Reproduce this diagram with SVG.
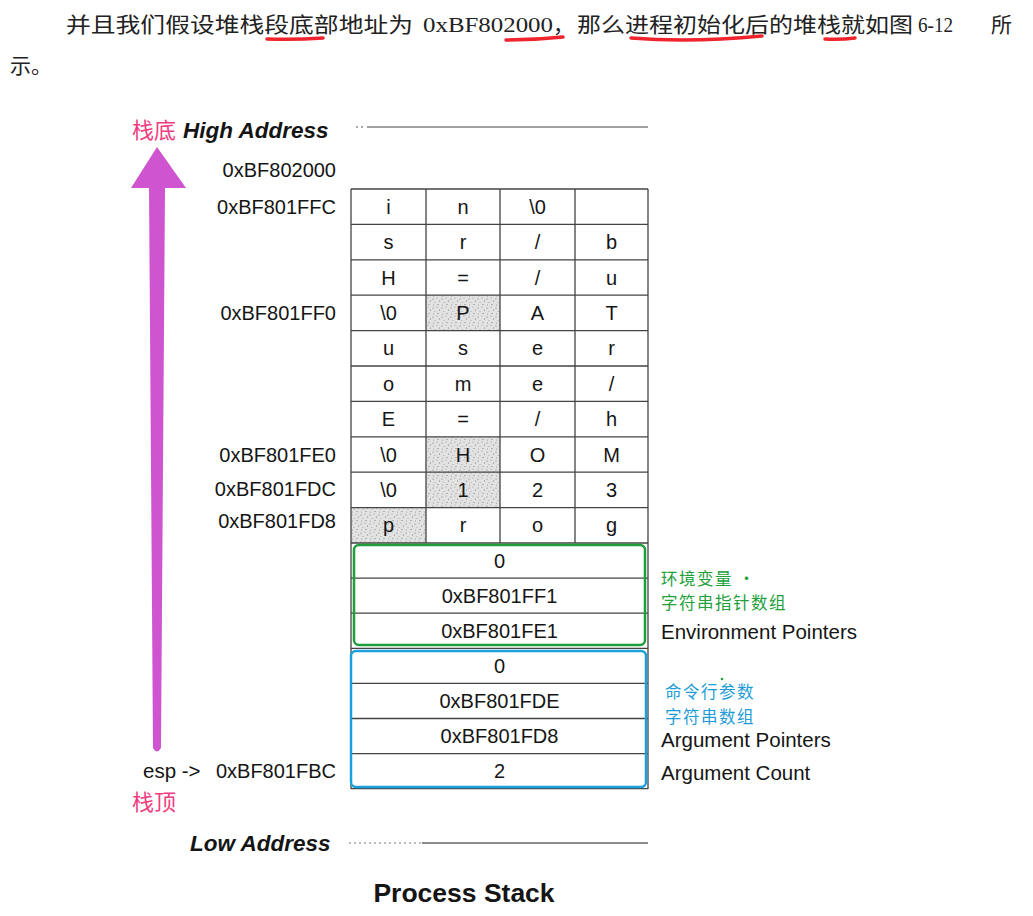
<svg xmlns="http://www.w3.org/2000/svg" width="1033" height="916" viewBox="0 0 1033 916">
<style>
.cn{font-family:"Liberation Serif","Noto Sans CJK SC",serif;font-size:21px;fill:#222}
.t{font-family:"Liberation Sans",Arial,sans-serif;font-size:20.5px;fill:#151515}
.c{font-family:"Liberation Sans",Arial,sans-serif;font-size:20px;fill:#151515;text-anchor:middle}
.a{font-family:"Liberation Sans",Arial,sans-serif;font-size:20px;fill:#151515;text-anchor:end}
.h{font-family:"Liberation Sans",Arial,sans-serif;font-size:22.5px;font-weight:bold;font-style:italic;fill:#151515}
.pk{font-family:"Noto Sans CJK SC",sans-serif;font-size:22px;fill:#f03c82}
.gl{font-family:"Noto Sans CJK SC",sans-serif;font-size:16.5px;letter-spacing:1.5px;fill:#22a03a}
.bl{font-family:"Noto Sans CJK SC",sans-serif;font-size:16.5px;letter-spacing:1.5px;fill:#1e9cd7}
.g{stroke:#444;stroke-width:1.3;fill:none}
.ul{stroke:#f0242c;stroke-width:3.5;fill:none;stroke-linecap:round}
.sh{fill:url(#stip)}
</style>
<defs>
<pattern id="stip" width="9" height="9" patternUnits="userSpaceOnUse">
<rect width="9" height="9" fill="#e2e2e2"/>
<circle cx="1" cy="2" r="0.6" fill="#777"/>
<circle cx="5" cy="1" r="0.5" fill="#888"/>
<circle cx="7.5" cy="4" r="0.6" fill="#777"/>
<circle cx="3" cy="5.5" r="0.5" fill="#999"/>
<circle cx="6" cy="7.5" r="0.6" fill="#777"/>
<circle cx="1.5" cy="8" r="0.5" fill="#888"/>
</pattern>
</defs>
<rect width="1033" height="916" fill="#ffffff"/>

<g id="caption">
<text class="cn" x="66" y="32" textLength="347" lengthAdjust="spacingAndGlyphs">并且我们假设堆栈段底部地址为</text>
<text class="cn" x="423" y="32" font-size="22" textLength="130" lengthAdjust="spacingAndGlyphs">0xBF802000</text>
<text class="cn" x="553" y="32">，</text>
<text class="cn" x="577" y="32" textLength="336" lengthAdjust="spacingAndGlyphs">那么进程初始化后的堆栈就如图</text>
<text class="cn" x="918" y="32" font-size="23" textLength="35" lengthAdjust="spacingAndGlyphs">6-12</text>
<text class="cn" x="991" y="32">所</text>
<text class="cn" x="10" y="73">示。</text>
<path class="ul" d="M267,39 Q295,40 323,38"/>
<path class="ul" d="M506,40 Q535,40 563,37"/>
<path class="ul" d="M631,38 Q690,43 762,36"/>
<path class="ul" d="M825,39 Q840,40 855,38"/>
</g>

<g id="connectors">
<path d="M157,147 L186,188 L165,188 L161,748 Q157,755 153,748 L149,188 L131,188 Z" fill="#cf55d0"/>
</g>

<g id="labels-left">
<text class="pk" x="132" y="138">栈底</text>
<text class="h" x="183" y="138">High Address</text>
<text class="h" x="190" y="851">Low Address</text>
<text class="pk" x="132" y="810">栈顶</text>
<text class="a" x="336" y="177">0xBF802000</text>
<text class="a" x="336" y="214">0xBF801FFC</text>
<text class="a" x="336" y="320">0xBF801FF0</text>
<text class="a" x="336" y="462">0xBF801FE0</text>
<text class="a" x="336" y="496">0xBF801FDC</text>
<text class="a" x="336" y="528">0xBF801FD8</text>
<text class="t" x="143" y="778" font-size="20">esp -&gt;</text>
<text class="a" x="336" y="778">0xBF801FBC</text>
</g>

<g id="boundaries">
<line x1="356" y1="127" x2="358" y2="127" stroke="#555" stroke-width="1.2"/>
<line x1="361" y1="127" x2="363" y2="127" stroke="#555" stroke-width="1.2"/>
<line x1="367" y1="127" x2="648" y2="127" stroke="#444" stroke-width="1.2"/>
<line x1="349" y1="843" x2="422" y2="843" stroke="#777" stroke-width="1.2" stroke-dasharray="2,3"/>
<line x1="422" y1="843" x2="648" y2="843" stroke="#666" stroke-width="1.5"/>
</g>

<g id="string-area">
<rect class="sh" x="426" y="295.2" width="74" height="35.4"/>
<rect class="sh" x="426" y="436.8" width="74" height="35.4"/>
<rect class="sh" x="426" y="472.2" width="74" height="35.4"/>
<rect class="sh" x="351" y="507.6" width="75" height="35.4"/>
<path class="g" d="M351,189H648M351,224.4H648M351,259.8H648M351,295.2H648M351,330.6H648M351,366H648M351,401.4H648M351,436.8H648M351,472.2H648M351,507.6H648M351,543H648M426,189V543M500,189V543M575,189V543M351,189V789M648,189V789"/>
<g id="row1"><text class="c" x="388.5" y="213.7">i</text><text class="c" x="463" y="213.7">n</text><text class="c" x="537.5" y="213.7">\0</text></g>
<g id="row2"><text class="c" x="388.5" y="249.1">s</text><text class="c" x="463" y="249.1">r</text><text class="c" x="537.5" y="249.1">/</text><text class="c" x="611.5" y="249.1">b</text></g>
<g id="row3"><text class="c" x="388.5" y="284.5">H</text><text class="c" x="463" y="284.5">=</text><text class="c" x="537.5" y="284.5">/</text><text class="c" x="611.5" y="284.5">u</text></g>
<g id="row4"><text class="c" x="388.5" y="319.9">\0</text><text class="c" x="463" y="319.9">P</text><text class="c" x="537.5" y="319.9">A</text><text class="c" x="611.5" y="319.9">T</text></g>
<g id="row5"><text class="c" x="388.5" y="355.3">u</text><text class="c" x="463" y="355.3">s</text><text class="c" x="537.5" y="355.3">e</text><text class="c" x="611.5" y="355.3">r</text></g>
<g id="row6"><text class="c" x="388.5" y="390.7">o</text><text class="c" x="463" y="390.7">m</text><text class="c" x="537.5" y="390.7">e</text><text class="c" x="611.5" y="390.7">/</text></g>
<g id="row7"><text class="c" x="388.5" y="426.1">E</text><text class="c" x="463" y="426.1">=</text><text class="c" x="537.5" y="426.1">/</text><text class="c" x="611.5" y="426.1">h</text></g>
<g id="row8"><text class="c" x="388.5" y="461.5">\0</text><text class="c" x="463" y="461.5">H</text><text class="c" x="537.5" y="461.5">O</text><text class="c" x="611.5" y="461.5">M</text></g>
<g id="row9"><text class="c" x="388.5" y="496.9">\0</text><text class="c" x="463" y="496.9">1</text><text class="c" x="537.5" y="496.9">2</text><text class="c" x="611.5" y="496.9">3</text></g>
<g id="row10"><text class="c" x="388.5" y="532.3">p</text><text class="c" x="463" y="532.3">r</text><text class="c" x="537.5" y="532.3">o</text><text class="c" x="611.5" y="532.3">g</text></g>
</g>

<g id="env-pointers">
<path class="g" d="M351,578.1H648M351,613.2H648"/>
<rect x="354" y="545" width="291" height="100" rx="5" fill="none" stroke="#1f9e3c" stroke-width="2.5"/>
<text class="c" x="499.5" y="567.5">0</text>
<text class="c" x="499.5" y="602.6">0xBF801FF1</text>
<text class="c" x="499.5" y="637.7">0xBF801FE1</text>
<text class="gl" x="661" y="585">环境变量 ·</text>
<text class="gl" x="661" y="609.4">字符串指针数组</text>
<text class="t" x="661" y="639">Environment Pointers</text>
</g>

<g id="arg-pointers">
<path class="g" d="M351,648.3H648M351,683.4H648M351,718.5H648M351,753.6H648M351,788.7H648"/>
<rect x="351" y="651" width="295" height="136" rx="5" fill="none" stroke="#1aa0dc" stroke-width="2.5"/>
<text class="c" x="499.5" y="672.8">0</text>
<text class="c" x="499.5" y="707.9">0xBF801FDE</text>
<text class="c" x="499.5" y="743">0xBF801FD8</text>
<text class="c" x="499.5" y="778.1">2</text>
<circle cx="722" cy="679" r="1.3" fill="#22a03a"/>
<text class="bl" x="665" y="698.4">命令行参数</text>
<text class="bl" x="665" y="722.8">字符串数组</text>
<text class="t" x="661" y="747">Argument Pointers</text>
<text class="t" x="661" y="780">Argument Count</text>
</g>

<g id="title">
<text x="464" y="902" text-anchor="middle" font-family="Liberation Sans, Arial, sans-serif" font-size="26.5" font-weight="bold" fill="#151515">Process Stack</text>
</g>
</svg>
